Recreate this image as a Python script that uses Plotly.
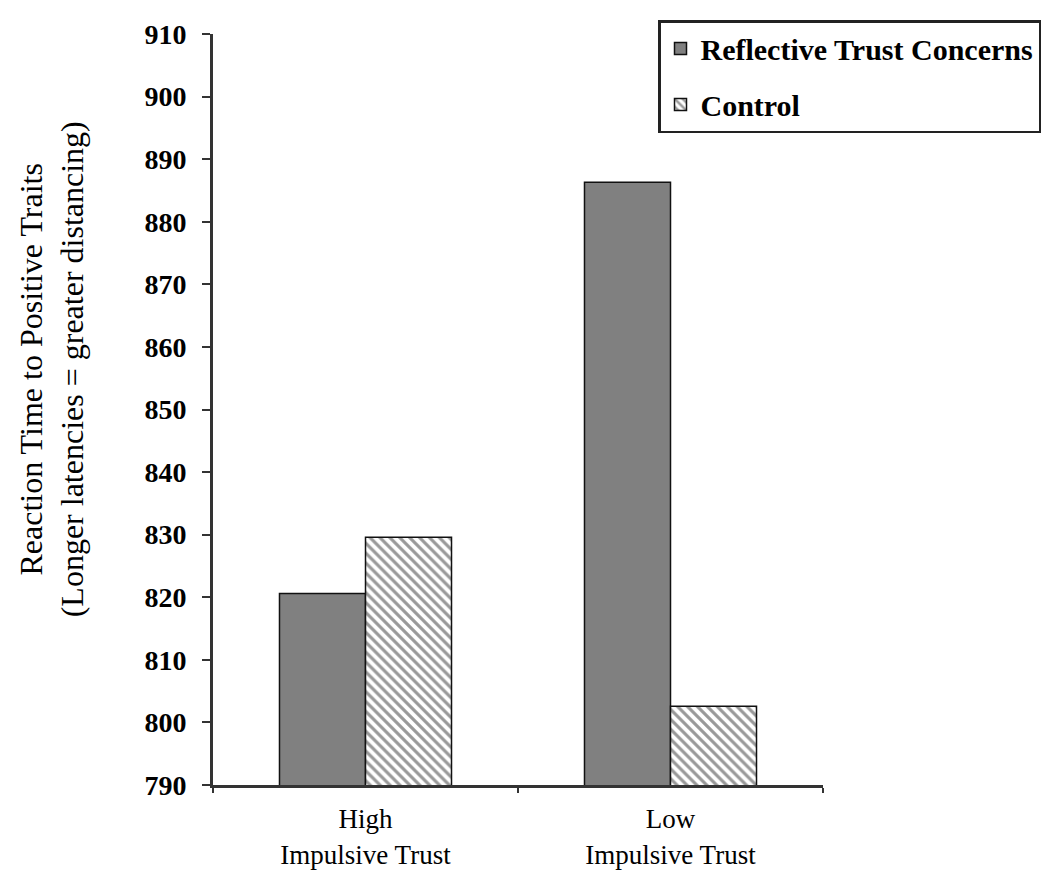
import plotly.graph_objects as go

categories = ["High<br>Impulsive Trust", "Low<br>Impulsive Trust"]
series_names = ["Reflective Trust Concerns", "Control"]
reflective = [820.6, 886.3]
control = [829.6, 802.6]
y_ticks = list(range(790, 911, 10))

FONT = "Liberation Serif"

# page body has an 8px margin; plot area in screenshot: x 213..823, y 28..785
L, R, T, B = 205, 815, 20, 777

fig = go.Figure()
fig.add_trace(go.Bar(
    x=categories, y=reflective, name=series_names[0], legendgroup="a",
    marker=dict(color="#808080", line=dict(color="#111111", width=1.5)),
))
fig.add_trace(go.Bar(
    x=categories, y=control, name=series_names[1], legendgroup="b",
    marker=dict(color="white", line=dict(color="#111111", width=1.5),
                pattern=dict(shape="\\", fgcolor="#333333", bgcolor="white",
                             size=7, solidity=0.45)),
))

pw, ph = R - L, B - T
fig.update_layout(
    width=1050, height=891,
    margin=dict(l=L, r=1050 - R, t=T, b=891 - B),
    paper_bgcolor="white", plot_bgcolor="white",
    barmode="group", bargap=0.436, bargroupgap=0,
    font=dict(family=FONT, color="black"),
    showlegend=True,
    legend=dict(
        x=(650 - L) / pw, y=(B - 6) / ph, xanchor="left", yanchor="top",
        bordercolor="#222222", borderwidth=2.5, bgcolor="white",
        font=dict(family=FONT, size=30, color="black", weight="bold"),
        traceorder="grouped", tracegroupgap=14, itemwidth=30,
    ),
    xaxis=dict(
        showline=True, linecolor="#333333", linewidth=3,
        ticks="outside", ticklen=5, tickwidth=2, tickcolor="#333333",
        tickson="boundaries",
        tickfont=dict(family=FONT, size=27, color="black"),
        ticklabelstandoff=8,
        showgrid=False, zeroline=False,
    ),
    yaxis=dict(
        range=[790, 910], tickvals=y_ticks,
        showline=True, linecolor="#333333", linewidth=3,
        ticks="outside", ticklen=8, tickwidth=2, tickcolor="#333333",
        tickfont=dict(family=FONT, size=28, color="black", weight="bold"),
        ticklabelstandoff=10,
        showgrid=False, zeroline=False,
    ),
    annotations=[dict(
        text="Reaction Time to Positive Traits<br>(Longer latencies = greater distancing)",
        xref="paper", yref="paper", x=(44 - L) / pw, y=(B - 358) / ph,
        xanchor="center", yanchor="middle", textangle=-90, showarrow=False,
        font=dict(family=FONT, size=32, color="black"),
    )],
)

fig.write_html("out.html")
